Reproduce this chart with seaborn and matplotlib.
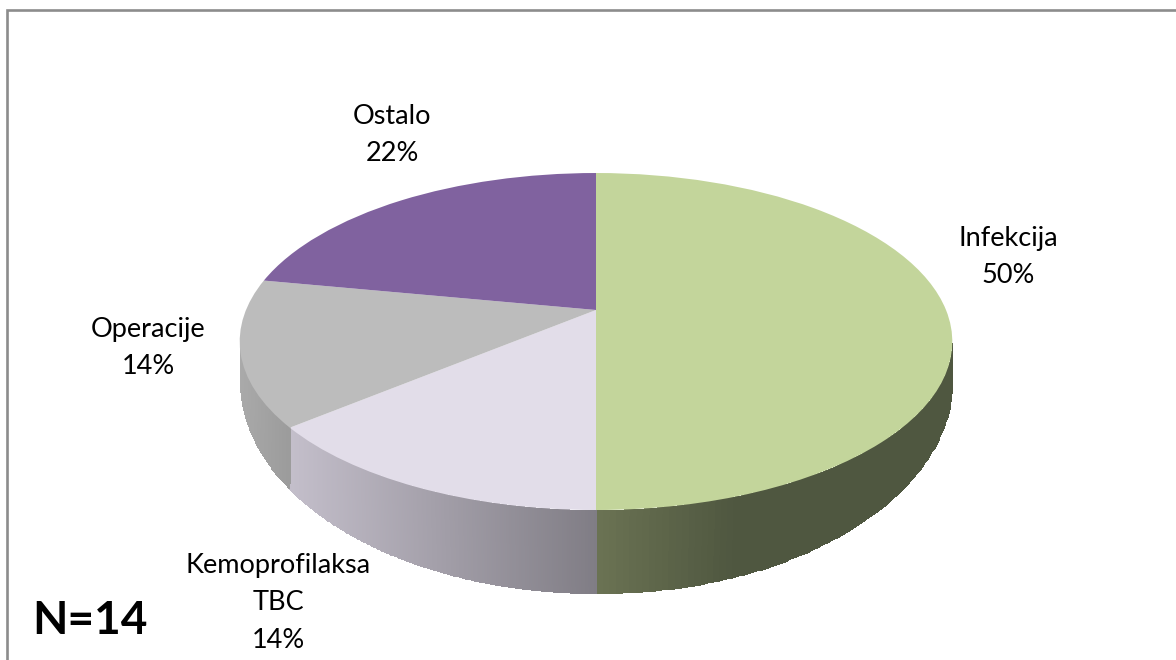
import numpy as np
import matplotlib
matplotlib.use("Agg")
import matplotlib.pyplot as plt
import matplotlib.colors as mcolors
import matplotlib.transforms as mtransforms
import seaborn as sns

# slices clockwise from 12 o'clock
labels = ["Infekcija", "Kemoprofilaksa\nTBC", "Operacije", "Ostalo"]
shares = [50, 14, 14, 22]
note = "N=14"

top_colors = ["#c3d59b", "#e2dde9", "#bcbcbc", "#80629f"]
# side wall shading: (picture x, colour) stops per slice
wall_stops = [
    [(596, "#6b7353"), (735, "#4f5740"), (960, "#4f5740")],
    [(288, "#c4bfcb"), (596, "#807d85")],
    [(240, "#aaaaaa"), (288, "#9c9c9c")],
    [(240, "#aaaaaa"), (288, "#aaaaaa")],
]

# pie geometry in pixels of the 1176x660 picture
APEX_X, APEX_Y = 596, 310
RX, RY, TILT = 350, 162.6, 0.187
BASE_Y, BASE_RX, BASE_RY = 380, 356, 213


class Tilt(mtransforms.Transform):
    """Perspective view of the unit circle, result in picture pixels"""
    input_dims = 2
    output_dims = 2

    def transform_non_affine(self, values):
        xy = np.asarray(values, dtype=float)
        w = 1 + TILT * xy[:, 1]
        return np.column_stack([APEX_X + RX * xy[:, 0] / w, APEX_Y - RY * xy[:, 1] / w])


def shade(x, stops):
    xs = [s[0] for s in stops]
    rgb = np.array([mcolors.to_rgb(s[1]) for s in stops])
    return np.column_stack([np.interp(x, xs, rgb[:, i]) for i in range(3)])


sns.set_theme(style="white")
plt.rcParams["font.family"] = ["Lato", "DejaVu Sans"]

fig = plt.figure(figsize=(11.76, 6.6), dpi=100)
ax = fig.add_axes([0, 0, 1, 1])
wedges, _ = ax.pie(shares, colors=sns.color_palette(top_colors), startangle=90, counterclock=False,
                   wedgeprops={"linewidth": 0})
ax.set_aspect("auto")
ax.set_xlim(0, 1176)
ax.set_ylim(660, 0)
ax.set_axis_off()

tilt = Tilt()
for wedge in wedges:
    wedge.set_transform(tilt + ax.transData)
    wedge.set_zorder(3)

# side wall, only the part of the rim that faces the viewer
for wedge, stops in zip(wedges, wall_stops):
    angle = np.linspace(wedge.theta1, wedge.theta2, 200)
    angle = angle[np.sin(np.radians(angle)) < -TILT]
    if len(angle) < 2:
        continue
    rad = np.radians(angle)
    rim = tilt.transform(np.column_stack([np.cos(rad), np.sin(rad)]))
    # base outline, walks a bit faster than the rim away from the front
    from_front = (angle + 90 + 180) % 360 - 180
    phi = np.radians(90 - 1.18 * np.abs(from_front))
    side = np.sign(from_front)
    X = np.vstack([rim[:, 0], APEX_X + side * BASE_RX * np.cos(phi)])
    Y = np.vstack([rim[:, 1], BASE_Y + BASE_RY * np.sin(phi)])
    C = shade((rim[:-1, 0] + rim[1:, 0]) / 2, stops)
    ax.pcolormesh(X, Y, C[None, :, :], shading="flat", zorder=2, edgecolors="face", linewidth=0.6)

# chart frame, only top and left are in the crop
ax.plot([7, 7, 1176], [660, 10, 10], color="#8c8c8c", linewidth=1.9, solid_joinstyle="miter", zorder=1)

label_xy = [(1008, 257), (278, 603), (148, 348), (392, 135)]
for label, share, (x, y) in zip(labels, shares, label_xy):
    ax.text(x, y, f"{label}\n{share}%", ha="center", va="center", fontsize=19.5, color="black",
            linespacing=1.62, zorder=5)
ax.text(32, 621, note, ha="left", va="center", fontsize=33, fontweight="bold", color="black", zorder=5)

fig.savefig("out.png", dpi=100)
